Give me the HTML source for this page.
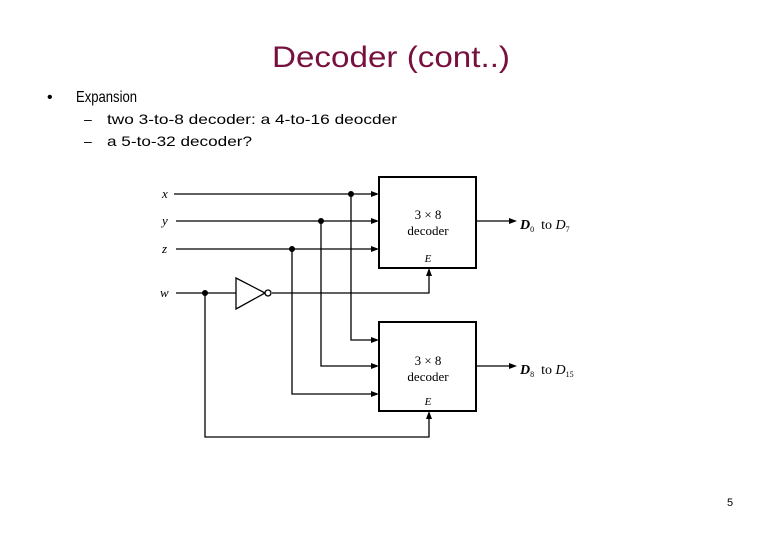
<!DOCTYPE html>
<html><head><style>
body{margin:0;background:#fff;}
svg{display:block;}
</style></head><body>
<svg width="780" height="540" xmlns="http://www.w3.org/2000/svg" font-family="Liberation Sans, sans-serif">
<text x="272" y="67" font-size="30" fill="#78103f" textLength="238" lengthAdjust="spacingAndGlyphs">Decoder (cont..)</text>
<text x="47" y="102" font-size="16">•</text>
<text x="76" y="102" font-size="16" textLength="61" lengthAdjust="spacingAndGlyphs">Expansion</text>
<text x="84" y="124" font-size="14">–</text>
<text x="107" y="124" font-size="14" textLength="290" lengthAdjust="spacingAndGlyphs">two 3-to-8 decoder: a 4-to-16 deocder</text>
<text x="84" y="146" font-size="14">–</text>
<text x="107" y="146" font-size="14" textLength="145" lengthAdjust="spacingAndGlyphs">a 5-to-32 decoder?</text>

<g font-family="Liberation Serif, serif" font-style="italic" font-size="13">
<text x="162" y="198">x</text><text x="162" y="225">y</text><text x="162" y="253">z</text><text x="160" y="297">w</text>
</g>
<g stroke="#000" fill="none" stroke-width="1.3">
<rect x="379" y="177" width="97" height="91" stroke-width="2"/>
<rect x="379" y="322" width="97" height="89" stroke-width="2"/>
<path d="M174 194H377M176 221H377M176 249H377"/>
<path d="M176 293H236M272 293H429V270"/>
<path d="M351 194V340H377M321 221V366H377M292 249V394H377"/>
<path d="M205 293V437H429V413"/>
<path d="M236 278L265 293L236 309Z"/>
<path d="M476 221H515M476 366H515"/>
</g>
<circle cx="268" cy="293" r="3" fill="#fff" stroke="#000" stroke-width="1.3"/>
<g fill="#000">
<circle cx="351" cy="194" r="3"/><circle cx="321" cy="221" r="3"/><circle cx="292" cy="249" r="3"/><circle cx="205" cy="293" r="3"/>
<path d="M379 194l-8-3v6zM379 221l-8-3v6zM379 249l-8-3v6zM379 340l-8-3v6zM379 366l-8-3v6zM379 394l-8-3v6z"/>
<path d="M517 221l-8-3v6zM517 366l-8-3v6z"/>
<path d="M429 268l-3 8h6zM429 411l-3 8h6z"/>
</g>
<g font-family="Liberation Serif, serif" font-size="13" text-anchor="middle">
<text x="428" y="219">3 × 8</text><text x="428" y="235">decoder</text>
<text x="428" y="365">3 × 8</text><text x="428" y="381">decoder</text>
<text x="428" y="262" font-style="italic" font-size="11">E</text>
<text x="428" y="405" font-style="italic" font-size="11">E</text>
</g>
<g font-family="Liberation Serif, serif" font-size="14">
<text x="520" y="229"><tspan font-weight="bold" font-style="italic">D</tspan><tspan font-size="8" dy="3">0</tspan><tspan dy="-3" xml:space="preserve">  to </tspan><tspan font-style="italic">D</tspan><tspan font-size="8" dy="3">7</tspan></text>
<text x="520" y="374"><tspan font-weight="bold" font-style="italic">D</tspan><tspan font-size="8" dy="3">8</tspan><tspan dy="-3" xml:space="preserve">  to </tspan><tspan font-style="italic">D</tspan><tspan font-size="8" dy="3">15</tspan></text>
</g>
<text x="727" y="506" font-size="11">5</text>
</svg>
</body></html>
